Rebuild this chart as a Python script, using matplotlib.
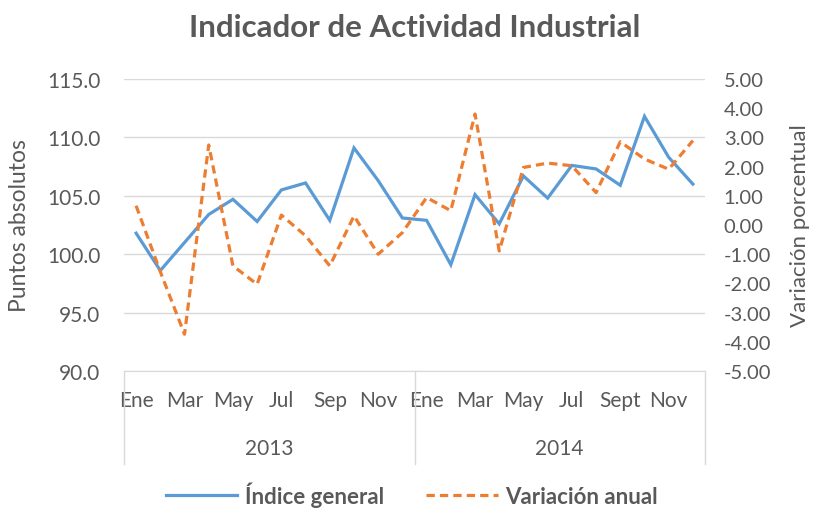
import numpy as np
import matplotlib
matplotlib.use("Agg")
import matplotlib.pyplot as plt
import matplotlib.transforms as mtransforms

plt.rcParams['font.family'] = ['Lato', 'DejaVu Sans']

# Datos
months = ["Ene", "Feb", "Mar", "Abr", "May", "Jun", "Jul", "Ago", "Sep", "Oct", "Nov", "Dic",
          "Ene", "Feb", "Mar", "Abr", "May", "Jun", "Jul", "Ago", "Sept", "Oct", "Nov", "Dic"]
years = ["2013", "2014"]
indice_general = [101.8, 98.6, 101.0, 103.4, 104.7, 102.8, 105.5, 106.1, 102.9, 109.1, 106.3, 103.1,
                  102.9, 99.1, 105.1, 102.6, 106.7, 104.8, 107.6, 107.3, 105.9, 111.8, 108.3, 106.0]
variacion_anual = [0.66, -1.6, -3.74, 2.74, -1.4, -2.03, 0.34, -0.37, -1.4, 0.31, -1.0, -0.26,
                   0.94, 0.49, 3.8, -0.89, 1.97, 2.12, 2.03, 1.11, 2.85, 2.26, 1.91, 2.89]

grey = '#595959'
blue = '#5B9BD5'
orange = '#ED7D31'

fig = plt.figure(figsize=(8.13, 5.10), dpi=100)
ax = fig.add_axes([124 / 813, 1 - 372 / 510, (705 - 124) / 813, (372 - 80) / 510])
ax2 = ax.twinx()

x = np.arange(len(indice_general))
l1, = ax.plot(x, indice_general, color=blue, lw=2.3, solid_joinstyle='miter', zorder=3)
l2, = ax2.plot(x, variacion_anual, color=orange, lw=2.3, dashes=(2.6, 1.6), zorder=3)

ax.set_xlim(-0.5, len(x) - 0.5)
ax.set_ylim(90, 115)
ax.set_yticks(np.arange(90, 115.1, 5))
ax.set_yticklabels([f"{v:.1f}" for v in np.arange(90, 115.1, 5)])
ax2.set_ylim(-5, 5)
ax2.set_yticks(np.arange(-5, 5.1, 1))
ax2.set_yticklabels([f"{v:.2f}" for v in np.arange(-5, 5.1, 1)])

ax.grid(axis='y', color='#D9D9D9', lw=1)
ax.set_axisbelow(True)
for a in (ax, ax2):
    for s in a.spines.values():
        s.set_visible(False)
    a.tick_params(length=0, labelsize=15, colors=grey)
ax.spines['bottom'].set_visible(True)
ax.spines['bottom'].set_color('#D9D9D9')
ax.tick_params(axis='y', pad=17)
ax2.tick_params(axis='y', pad=13.5, labelsize=14.5)
for t in ax2.get_yticklabels():
    t.set_horizontalalignment('left')

# Etiquetas de meses (cada dos)
ax.set_xticks(x[::2])
ax.set_xticklabels(months[::2])
ax.tick_params(axis='x', pad=14)

# Niveles de año y separadores
trans = mtransforms.blended_transform_factory(ax.transData, ax.transAxes)
n = 12
for i, yr in enumerate(years):
    ax.text(i * n + (n - 1) / 2, -0.265, yr, transform=trans, ha='center', va='center',
            fontsize=15, color=grey)
for b in [-0.5, n - 0.5, 2 * n - 0.5]:
    ax.plot([b, b], [0, -0.32], transform=trans, color='#D9D9D9', lw=1, clip_on=False)

ax.set_ylabel("Puntos absolutos", fontsize=16.5, color=grey)
ax.yaxis.set_label_coords(-0.162, 0.5)
ax2.set_ylabel("Variación porcentual", fontsize=16, color=grey, rotation=90)
ax2.yaxis.set_label_coords(1.146, 0.5)

fig.text((124 + 705) / 2 / 813, 1 - 28 / 510, "Indicador de Actividad Industrial",
         fontsize=22.5, fontweight='bold', color=grey, ha='center', va='center')

leg = fig.legend([l1, l2], ["Índice general", "Variación anual"], loc='center',
                 bbox_to_anchor=((124 + 705) / 2 / 813 - 0.003, 1 - 495 / 510), ncol=2,
                 frameon=False, handlelength=3.2, handletextpad=0.35,
                 columnspacing=1.9, prop={'size': 16, 'weight': 'bold'})
for t in leg.get_texts():
    t.set_color(grey)

fig.savefig("out.png", dpi=100)
